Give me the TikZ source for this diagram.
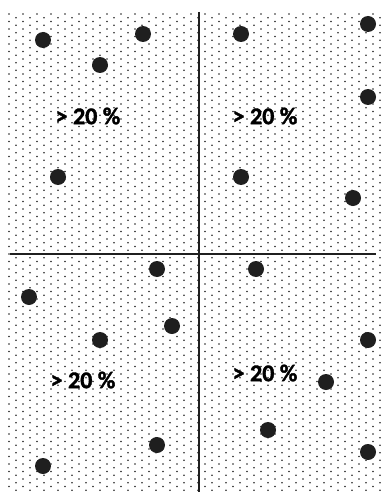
\documentclass[tikz,border=0pt]{standalone}
\usepackage{fontspec}
\setmainfont{Carlito}[BoldFont={Carlito Bold},BoldFeatures={FakeBold=1.5}]
\begin{document}
\begin{tikzpicture}[x=1pt,y=-1pt,
  bigdot/.style={circle,fill=black!88,inner sep=0pt,minimum size=16pt},
  pct/.style={font=\bfseries\fontsize{24}{28}\selectfont,inner sep=0pt,text=black},
  axis/.style={line width=1.8pt,black!88}]
\useasboundingbox (0,0) rectangle (385,492);
% dot pattern
\foreach \r in {0,...,127}{
  \pgfmathsetmacro{\yy}{14+\r*3.75}
  \pgfmathsetmacro{\off}{mod(\r,2)*7}
  \foreach \c in {0,...,27}{
    \fill[black!85] ({9+\off+\c*14},\yy) circle (0.9);
  }
}
% axes
\coordinate (vt) at (199,12);
\coordinate (vb) at (199,492);
\coordinate (hl) at (10,254);
\coordinate (hr) at (376,254);
\draw[axis] (vt) -- (vb);
\draw[axis] (hl) -- (hr);
% big dots
\node[bigdot] (a1) at (43,40) {};
\node[bigdot] (a2) at (143,34) {};
\node[bigdot] (a3) at (100,65) {};
\node[bigdot] (a4) at (58,177) {};
\node[bigdot] (b1) at (241,34) {};
\node[bigdot] (b2) at (368,24) {};
\node[bigdot] (b3) at (368,97) {};
\node[bigdot] (b4) at (241,177) {};
\node[bigdot] (b5) at (353,198) {};
\node[bigdot] (c1) at (157,269) {};
\node[bigdot] (c2) at (29,297) {};
\node[bigdot] (c3) at (172,326) {};
\node[bigdot] (c4) at (100,340) {};
\node[bigdot] (c5) at (157,445) {};
\node[bigdot] (c6) at (43,466) {};
\node[bigdot] (d1) at (256,269) {};
\node[bigdot] (d2) at (368,340) {};
\node[bigdot] (d3) at (326,382) {};
\node[bigdot] (d4) at (268,430) {};
\node[bigdot] (d5) at (368,452) {};
% labels
\node[pct] (t1) at (88,116) {> 20 \%};
\node[pct] (t2) at (265,116) {> 20 \%};
\node[pct] (t3) at (83,380) {> 20 \%};
\node[pct] (t4) at (265,373) {> 20 \%};
\end{tikzpicture}
\end{document}
